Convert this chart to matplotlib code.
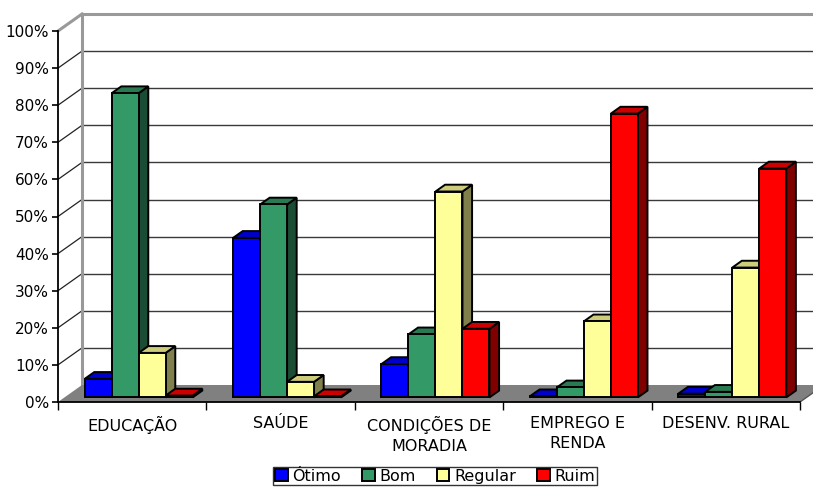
import matplotlib
matplotlib.use('Agg')
import matplotlib.pyplot as plt
from matplotlib.patches import Polygon, Patch
import numpy as np

categories = ['EDUCAÇÃO', 'SAÚDE', 'CONDIÇÕES DE\nMORADIA', 'EMPREGO E\nRENDA', 'DESENV. RURAL']
series_names = ['Ótimo', 'Bom', 'Regular', 'Ruim']
otimo = [5, 43, 9, 0.3, 1]
bom = [82, 52, 17, 2.7, 1.5]
regular = [12, 4.2, 55.5, 20.5, 35]
ruim = [0.5, 0.3, 18.5, 76.5, 61.7]
y_ticks = [0, 10, 20, 30, 40, 50, 60, 70, 80, 90, 100]

series = [otimo, bom, regular, ruim]
front_colors = ['#0000FF', '#339966', '#FFFF99', '#FF0000']


def shade(hex_color, k):
    r, g, b = matplotlib.colors.to_rgb(hex_color)
    return (r * k, g * k, b * k)


W, H = 813, 488
fig = plt.figure(figsize=(W / 100, H / 100), dpi=100)
# front plane of the chart, in pixels
left_px, right_px, bottom_px, top_px = 58, 800, 402, 31
ax = fig.add_axes([left_px / W, 1 - bottom_px / H,
                   (right_px - left_px) / W, (bottom_px - top_px) / H])
ax.set_xlim(-0.5, 4.5)
ax.set_ylim(0, 100)
ax.patch.set_alpha(0)

px_x = (right_px - left_px) / 5.0
px_y = (bottom_px - top_px) / 100.0
DX = 24 / px_x   # depth offset of the walls, in data units
DY = 17 / px_y

# back wall gridlines and side wall lines
x_back0 = -0.5 + DX
x_back1 = 4.5 + DX
for v in y_ticks[1:-1]:
    ax.plot([x_back0, x_back1], [v + DY, v + DY], color='#3a3a3a', lw=1.0, clip_on=False, zorder=1)
    ax.plot([-0.5, x_back0], [v, v + DY], color='#222222', lw=0.9, clip_on=False, zorder=1)
ax.plot([x_back0, x_back1], [100 + DY, 100 + DY], color='#999999', lw=2.2, clip_on=False, zorder=1)
ax.plot([-0.5, x_back0], [100, 100 + DY], color='#999999', lw=2.2, clip_on=False, zorder=1)
ax.plot([x_back0, x_back0], [DY, 100 + DY], color='#999999', lw=2.2, clip_on=False, zorder=1)

# floor
floor = Polygon([(-0.5, 0), (4.5, 0), (x_back1, DY), (x_back0, DY)],
                closed=True, facecolor='#808080', edgecolor='none', clip_on=False, zorder=1.5)
ax.add_patch(floor)
ax.plot([4.5, x_back1], [0, DY], color='#555555', lw=1.0, clip_on=False, zorder=1.6)

# bars
bw = 27 / px_x
f0 = 0.27
fd = 0.40
bdx, bdy = fd * DX, fd * DY
z = 2
for i in range(len(categories)):
    for j, vals in enumerate(series):
        v = vals[i]
        x0 = i - 2 * bw + j * bw + f0 * DX
        y0 = f0 * DY
        x1, y1 = x0 + bw, y0 + v
        fc = front_colors[j]
        kw = dict(closed=True, edgecolor='black', lw=1.4, clip_on=False, joinstyle='miter')
        ax.add_patch(Polygon([(x1, y0), (x1 + bdx, y0 + bdy), (x1 + bdx, y1 + bdy), (x1, y1)],
                             facecolor=shade(fc, 0.5), zorder=z, **kw))
        ax.add_patch(Polygon([(x0, y1), (x1, y1), (x1 + bdx, y1 + bdy), (x0 + bdx, y1 + bdy)],
                             facecolor=shade(fc, 0.8), zorder=z + 0.1, **kw))
        ax.add_patch(Polygon([(x0, y0), (x1, y0), (x1, y1), (x0, y1)],
                             facecolor=fc, zorder=z + 0.2, **kw))
        z += 1

# axes
for s in ['top', 'right']:
    ax.spines[s].set_visible(False)
for s in ['left', 'bottom']:
    ax.spines[s].set_color('black')
    ax.spines[s].set_linewidth(1.3)
    ax.spines[s].set_zorder(50)

ax.set_yticks(y_ticks)
ax.set_yticklabels([f'{v}%' for v in y_ticks])
ax.tick_params(axis='y', direction='out', length=4.5, width=1.2, labelsize=11, pad=2, colors='black')

ax.set_xticks(range(len(categories)))
ax.set_xticklabels(categories, linespacing=1.4)
ax.set_xticks(np.arange(-0.5, 5, 1), minor=True)
ax.tick_params(axis='x', which='major', length=0, labelsize=11.5, pad=10)
ax.tick_params(axis='x', which='minor', direction='out', length=5.5, width=1.0)

handles = [Patch(facecolor=c, edgecolor='black', lw=1.4) for c in front_colors]
leg = fig.legend(handles, series_names, loc='upper center', bbox_to_anchor=(435 / W, 1 - 467 / H),
                 ncol=4, fontsize=11.5, frameon=True, fancybox=False, borderpad=0.1,
                 handlelength=0.8, handleheight=0.8, handletextpad=0.3, columnspacing=1.3,
                 borderaxespad=0)
leg.get_frame().set_edgecolor('black')
leg.get_frame().set_linewidth(1.0)

fig.savefig('out.png', dpi=100)
